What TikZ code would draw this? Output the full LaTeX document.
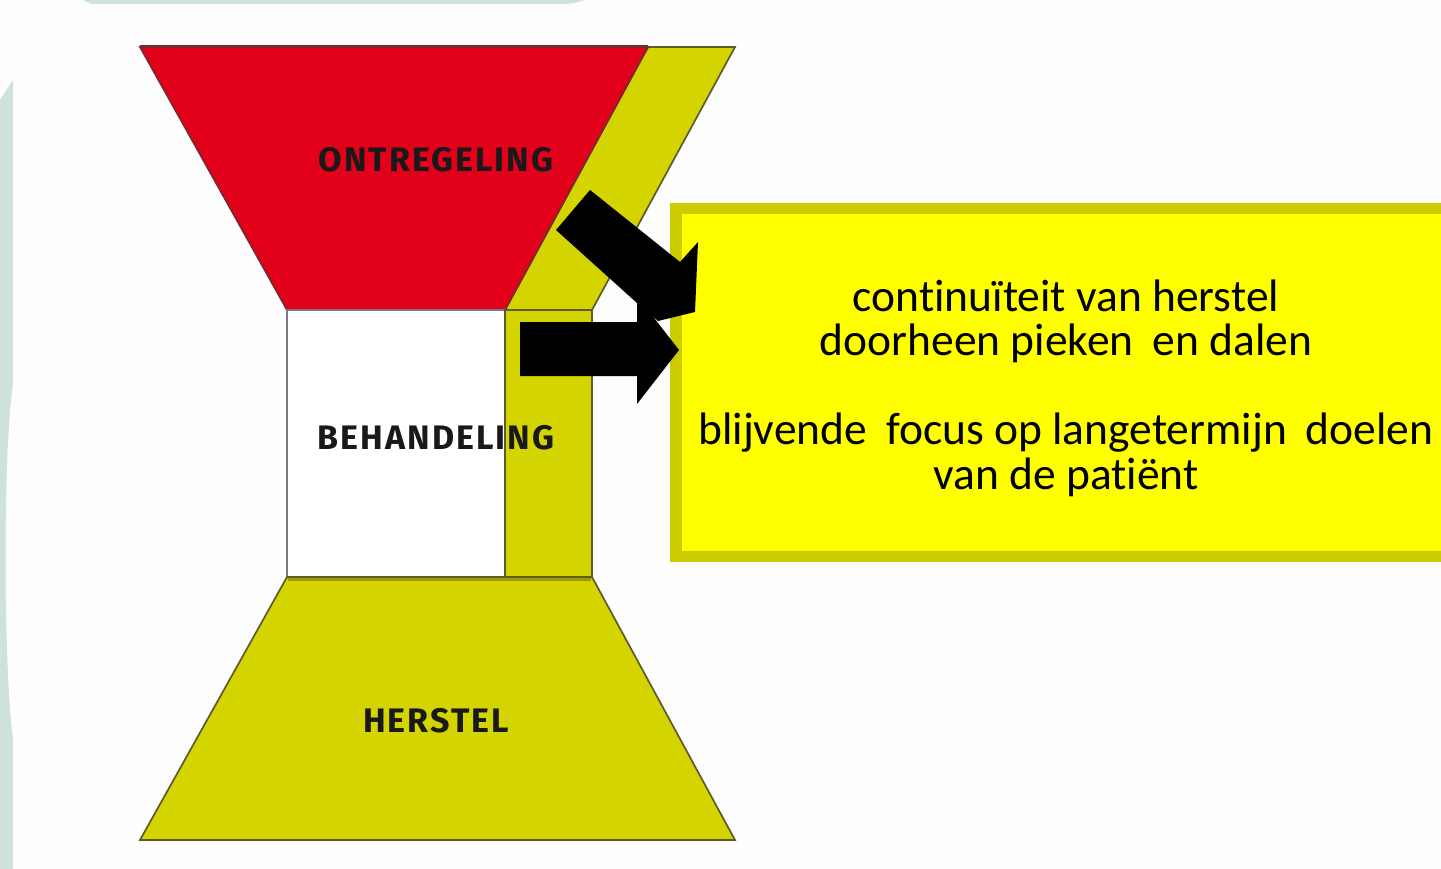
\documentclass[tikz,border=0pt]{standalone}
\usepackage{fontspec}
\newfontfamily\labelfont[LetterSpace=6]{Fira Sans}
\newfontfamily\boxfont[RawFeature={-liga;-dlig;-clig}]{Carlito}
\definecolor{bgteal}{HTML}{CFE1DC}
\definecolor{bgwhite}{HTML}{FDFDFD}
\definecolor{ored}{HTML}{E2001A}
\definecolor{olive}{HTML}{D4D400}
\definecolor{boxedge}{HTML}{CCCC00}
\definecolor{boxfill}{HTML}{FFFF00}
\definecolor{redline}{HTML}{7A2830}
\definecolor{oliveline}{HTML}{5E5B2A}
\definecolor{olivetop}{HTML}{A09C00}
\definecolor{greyline}{HTML}{7A7A85}
\newcommand{\dblsp}{\hspace{0.42em}}
\begin{document}
\begin{tikzpicture}[x=1pt,y=-1pt,
  shapeline/.style={line width=1.7pt, line join=miter},
  lbl/.style={font=\labelfont\bfseries\fontsize{34}{40}\selectfont, text=black!90, inner sep=0pt},
  boxtxt/.style={font=\boxfont\fontsize{45.5}{44.5}\selectfont, align=center, text=black, inner sep=0pt},
  blockarrow/.style={fill=black},
]
\useasboundingbox (0,0) rectangle (1441,869);
\fill[bgwhite] (0,0) rectangle (1441,869);
% background remnants
\fill[bgteal] (83,0) -- (585,0) .. controls (576,3) .. (562,4) -- (92,4) -- cycle;
\fill[bgteal] (0,100) -- (13,80) -- (13,385) .. controls (3,450) and (3,660) .. (13,740) -- (13,869) -- (0,869) -- cycle;

% top funnel
\filldraw[fill=olive, draw=oliveline, shapeline] (648,47) -- (735,47) -- (592,310) -- (505,310) -- cycle;
\filldraw[fill=ored, draw=redline, shapeline] (140,47) -- (648,47) -- (505,310) -- (287,310) -- cycle;
\draw[redline, line width=3pt] (140,47) -- (648,47);

% middle
\filldraw[fill=white, draw=greyline, shapeline] (287,310) rectangle (505,577);
\filldraw[fill=olive, draw=oliveline, shapeline] (505,310) rectangle (592,577);

% bottom funnel
\filldraw[fill=olive, draw=oliveline, shapeline] (287,577) -- (592,577) -- (735,840) -- (140,840) -- cycle;
\draw[olivetop, line width=3pt] (288,579) -- (591,579);

% labels
\node[lbl] (ontr) at (436,160) {ONTREGELING};
\node[lbl] (beh) at (436,438) {BEHANDELING};
\node[lbl] (herst) at (436,721) {HERSTEL};

% text box
\fill[boxedge] (670,203) rectangle (1441,562);
\fill[boxfill] (682,214) rectangle (1441,551);
\node[boxtxt] (goals) at (1066,388) {continuïteit van herstel\\
doorheen pieken\dblsp en dalen\\[44.5pt]
blijvende\dblsp focus op langetermijn\dblsp doelen\\
van de patiënt};

% block arrows
\fill[blockarrow] (590,190) -- (680,262) -- (698,242) -- (695,312) -- (658,321) -- (637,303) -- (556,230) -- cycle;
\fill[blockarrow] (520,322) -- (637,322) -- (637,296) -- (679,350) -- (637,404) -- (637,376) -- (520,376) -- cycle;
\end{tikzpicture}
\end{document}
